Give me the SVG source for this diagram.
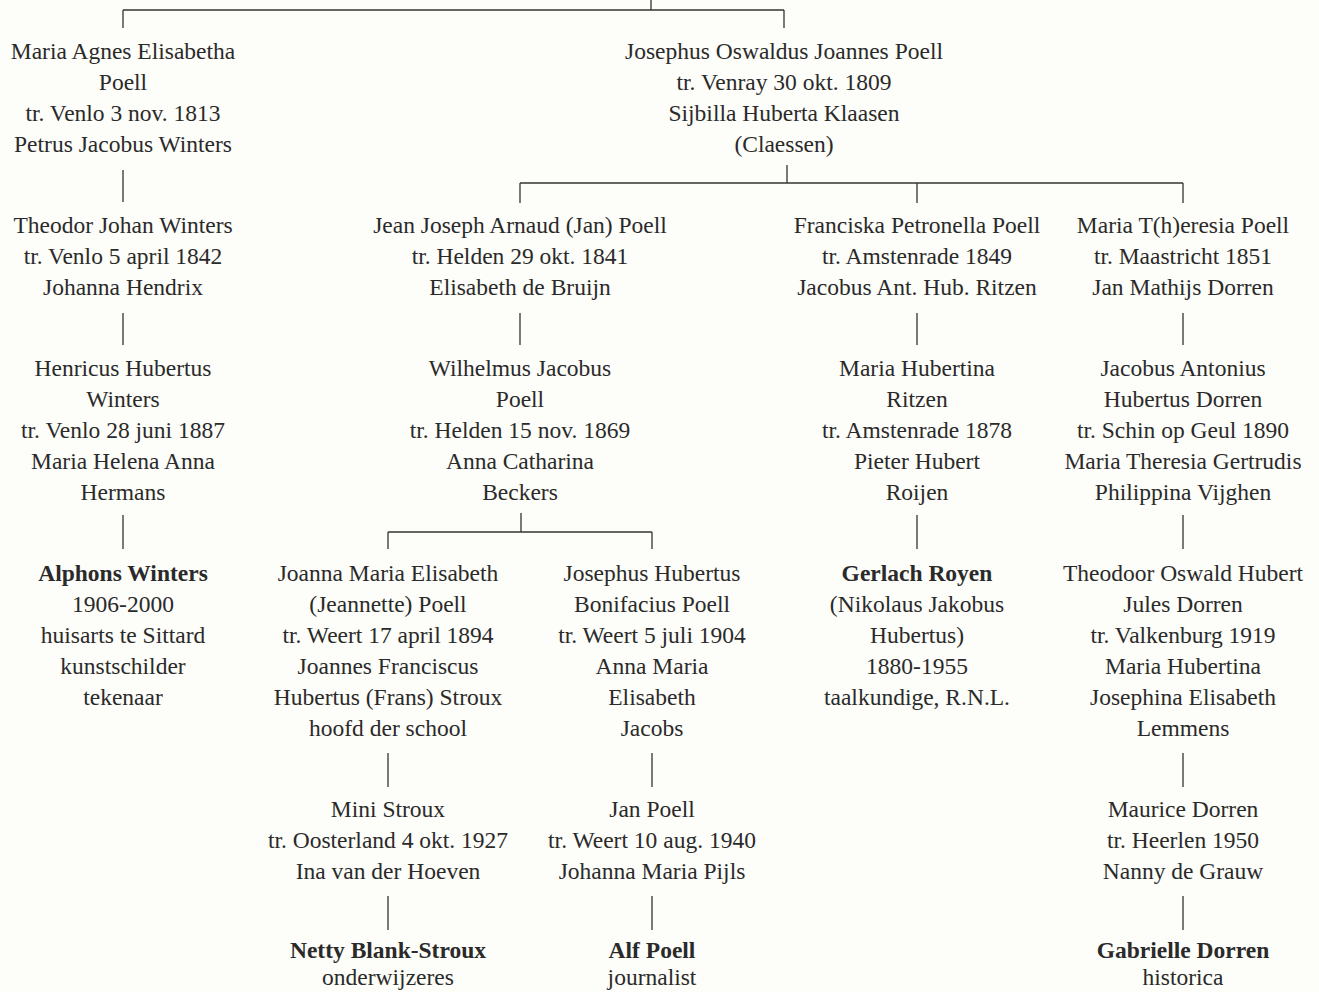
<svg xmlns="http://www.w3.org/2000/svg" width="1319" height="992" viewBox="0 0 1319 992">
<style>
text{font-family:"Liberation Serif","Times New Roman",serif;font-size:23.5px;fill:#2a2a2a;text-anchor:middle}
.b{font-weight:bold}
#connectors line{stroke:#333;stroke-width:1.3}
</style>
<rect width="1319" height="992" fill="#fdfdf9"/>
<g id="connectors">
<line x1="651" y1="0" x2="651" y2="10"/>
<line x1="123" y1="10" x2="784" y2="10"/>
<line x1="123" y1="10" x2="123" y2="28"/>
<line x1="784" y1="10" x2="784" y2="28"/>
<line x1="123" y1="170" x2="123" y2="202"/>
<line x1="787" y1="165" x2="787" y2="183"/>
<line x1="520" y1="183" x2="1183" y2="183"/>
<line x1="520" y1="183" x2="520" y2="203"/>
<line x1="917" y1="183" x2="917" y2="203"/>
<line x1="1183" y1="183" x2="1183" y2="203"/>
<line x1="123" y1="313" x2="123" y2="345"/>
<line x1="520" y1="313" x2="520" y2="345"/>
<line x1="917" y1="313" x2="917" y2="345"/>
<line x1="1183" y1="313" x2="1183" y2="345"/>
<line x1="123" y1="515" x2="123" y2="549"/>
<line x1="917" y1="515" x2="917" y2="549"/>
<line x1="1183" y1="515" x2="1183" y2="549"/>
<line x1="521" y1="513" x2="521" y2="532"/>
<line x1="388" y1="532" x2="652" y2="532"/>
<line x1="388" y1="532" x2="388" y2="549"/>
<line x1="652" y1="532" x2="652" y2="549"/>
<line x1="388" y1="753" x2="388" y2="787"/>
<line x1="652" y1="753" x2="652" y2="787"/>
<line x1="1183" y1="753" x2="1183" y2="787"/>
<line x1="388" y1="896" x2="388" y2="930"/>
<line x1="652" y1="896" x2="652" y2="930"/>
<line x1="1183" y1="896" x2="1183" y2="930"/>
</g>
<g id="maria-agnes"><text x="123" y="59">Maria Agnes Elisabetha</text><text x="123" y="90">Poell</text><text x="123" y="121">tr. Venlo 3 nov. 1813</text><text x="123" y="152">Petrus Jacobus Winters</text></g>
<g id="josephus-oswaldus"><text x="784" y="59">Josephus Oswaldus Joannes Poell</text><text x="784" y="90">tr. Venray 30 okt. 1809</text><text x="784" y="121">Sijbilla Huberta Klaasen</text><text x="784" y="152">(Claessen)</text></g>
<g id="theodor-johan"><text x="123" y="233">Theodor Johan Winters</text><text x="123" y="264">tr. Venlo 5 april 1842</text><text x="123" y="295">Johanna Hendrix</text></g>
<g id="jean-joseph"><text x="520" y="233">Jean Joseph Arnaud (Jan) Poell</text><text x="520" y="264">tr. Helden 29 okt. 1841</text><text x="520" y="295">Elisabeth de Bruijn</text></g>
<g id="franciska"><text x="917" y="233">Franciska Petronella Poell</text><text x="917" y="264">tr. Amstenrade 1849</text><text x="917" y="295">Jacobus Ant. Hub. Ritzen</text></g>
<g id="maria-theresia"><text x="1183" y="233">Maria T(h)eresia Poell</text><text x="1183" y="264">tr. Maastricht 1851</text><text x="1183" y="295">Jan Mathijs Dorren</text></g>
<g id="henricus"><text x="123" y="376">Henricus Hubertus</text><text x="123" y="407">Winters</text><text x="123" y="438">tr. Venlo 28 juni 1887</text><text x="123" y="469">Maria Helena Anna</text><text x="123" y="500">Hermans</text></g>
<g id="wilhelmus"><text x="520" y="376">Wilhelmus Jacobus</text><text x="520" y="407">Poell</text><text x="520" y="438">tr. Helden 15 nov. 1869</text><text x="520" y="469">Anna Catharina</text><text x="520" y="500">Beckers</text></g>
<g id="maria-hubertina"><text x="917" y="376">Maria Hubertina</text><text x="917" y="407">Ritzen</text><text x="917" y="438">tr. Amstenrade 1878</text><text x="917" y="469">Pieter Hubert</text><text x="917" y="500">Roijen</text></g>
<g id="jacobus-antonius"><text x="1183" y="376">Jacobus Antonius</text><text x="1183" y="407">Hubertus Dorren</text><text x="1183" y="438">tr. Schin op Geul 1890</text><text x="1183" y="469">Maria Theresia Gertrudis</text><text x="1183" y="500">Philippina Vijghen</text></g>
<g id="alphons"><text class="b" x="123" y="581">Alphons Winters</text><text x="123" y="612">1906-2000</text><text x="123" y="643">huisarts te Sittard</text><text x="123" y="674">kunstschilder</text><text x="123" y="705">tekenaar</text></g>
<g id="joanna"><text x="388" y="581">Joanna Maria Elisabeth</text><text x="388" y="612">(Jeannette) Poell</text><text x="388" y="643">tr. Weert 17 april 1894</text><text x="388" y="674">Joannes Franciscus</text><text x="388" y="705">Hubertus (Frans) Stroux</text><text x="388" y="736">hoofd der school</text></g>
<g id="josephus-hubertus"><text x="652" y="581">Josephus Hubertus</text><text x="652" y="612">Bonifacius Poell</text><text x="652" y="643">tr. Weert 5 juli 1904</text><text x="652" y="674">Anna Maria</text><text x="652" y="705">Elisabeth</text><text x="652" y="736">Jacobs</text></g>
<g id="gerlach"><text class="b" x="917" y="581">Gerlach Royen</text><text x="917" y="612">(Nikolaus Jakobus</text><text x="917" y="643">Hubertus)</text><text x="917" y="674">1880-1955</text><text x="917" y="705">taalkundige, R.N.L.</text></g>
<g id="theodoor"><text x="1183" y="581">Theodoor Oswald Hubert</text><text x="1183" y="612">Jules Dorren</text><text x="1183" y="643">tr. Valkenburg 1919</text><text x="1183" y="674">Maria Hubertina</text><text x="1183" y="705">Josephina Elisabeth</text><text x="1183" y="736">Lemmens</text></g>
<g id="mini"><text x="388" y="817">Mini Stroux</text><text x="388" y="848">tr. Oosterland 4 okt. 1927</text><text x="388" y="879">Ina van der Hoeven</text></g>
<g id="jan"><text x="652" y="817">Jan Poell</text><text x="652" y="848">tr. Weert 10 aug. 1940</text><text x="652" y="879">Johanna Maria Pijls</text></g>
<g id="maurice"><text x="1183" y="817">Maurice Dorren</text><text x="1183" y="848">tr. Heerlen 1950</text><text x="1183" y="879">Nanny de Grauw</text></g>
<g id="netty"><text class="b" x="388" y="958">Netty Blank-Stroux</text><text x="388" y="985">onderwijzeres</text></g>
<g id="alf"><text class="b" x="652" y="958">Alf Poell</text><text x="652" y="985">journalist</text></g>
<g id="gabrielle"><text class="b" x="1183" y="958">Gabrielle Dorren</text><text x="1183" y="985">historica</text></g>
</svg>
